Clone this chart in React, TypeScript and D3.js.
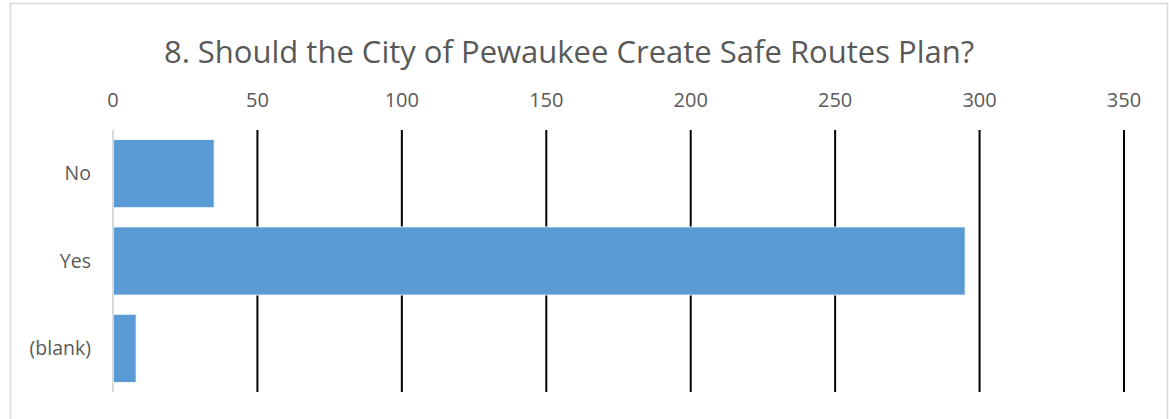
import { useEffect, useRef } from 'react';
import * as d3 from 'd3';

const title = '8. Should the City of Pewaukee Create Safe Routes Plan?';
const categories = ['No', 'Yes', '(blank)'];
const counts = [35, 295, 8];
const xTicks = [0, 50, 100, 150, 200, 250, 300, 350];

export default function App() {
    const svgRef = useRef<SVGSVGElement | null>(null);

    useEffect(() => {
        document.body.style.margin = '0';
        if (!svgRef.current) return;

        const svg = d3.select(svgRef.current);
        svg.selectAll('*').remove();

        const width = 1169;
        const height = 419;
        const font = '"Open Sans", sans-serif';
        const textColor = '#595959';

        svg.attr('width', width).attr('height', height);

        // chart frame
        svg.append('rect')
            .attr('x', 10.5)
            .attr('y', 3.5)
            .attr('width', 1157)
            .attr('height', 440)
            .attr('fill', 'white')
            .attr('stroke', '#d9d9d9')
            .attr('stroke-width', 1.5);

        const x = d3.scaleLinear().domain([0, 350]).range([113, 1124]);
        const y = d3.scaleBand<string>()
            .domain(categories)
            .range([130, 392])
            .paddingInner(0.22)
            .paddingOuter(0.11);

        // title
        svg.append('text')
            .attr('x', 569)
            .attr('y', 63)
            .attr('text-anchor', 'middle')
            .attr('font-family', font)
            .attr('font-size', 31)
            .attr('fill', textColor)
            .text(title);

        // tick labels on top
        svg.append('g')
            .selectAll('text')
            .data(xTicks)
            .join('text')
            .attr('x', d => x(d))
            .attr('y', 107)
            .attr('text-anchor', 'middle')
            .attr('font-family', font)
            .attr('font-size', 20)
            .attr('fill', textColor)
            .text(d => d);

        // gridlines (behind the bars)
        svg.append('g')
            .selectAll('line')
            .data(xTicks.filter(t => t > 0))
            .join('line')
            .attr('x1', d => x(d))
            .attr('x2', d => x(d))
            .attr('y1', 130)
            .attr('y2', 392)
            .attr('stroke', '#000')
            .attr('stroke-width', 2);

        // bars
        svg.append('g')
            .selectAll('rect')
            .data(categories)
            .join('rect')
            .attr('x', x(0))
            .attr('y', d => y(d)!)
            .attr('width', (d, i) => x(counts[i]) - x(0))
            .attr('height', y.bandwidth())
            .attr('fill', '#5b9bd5')
            .attr('stroke', 'white')
            .attr('stroke-width', 0.8);

        // category axis line
        svg.append('line')
            .attr('x1', x(0))
            .attr('x2', x(0))
            .attr('y1', 130)
            .attr('y2', 392)
            .attr('stroke', '#d9d9d9')
            .attr('stroke-width', 2);

        // category labels
        svg.append('g')
            .selectAll('text')
            .data(categories)
            .join('text')
            .attr('x', 91)
            .attr('y', d => y(d)! + y.bandwidth() / 2)
            .attr('dy', '0.35em')
            .attr('text-anchor', 'end')
            .attr('font-family', font)
            .attr('font-size', 19.5)
            .attr('fill', textColor)
            .text(d => d);
    }, []);

    return <svg ref={svgRef} style={{ display: 'block' }}></svg>;
}
